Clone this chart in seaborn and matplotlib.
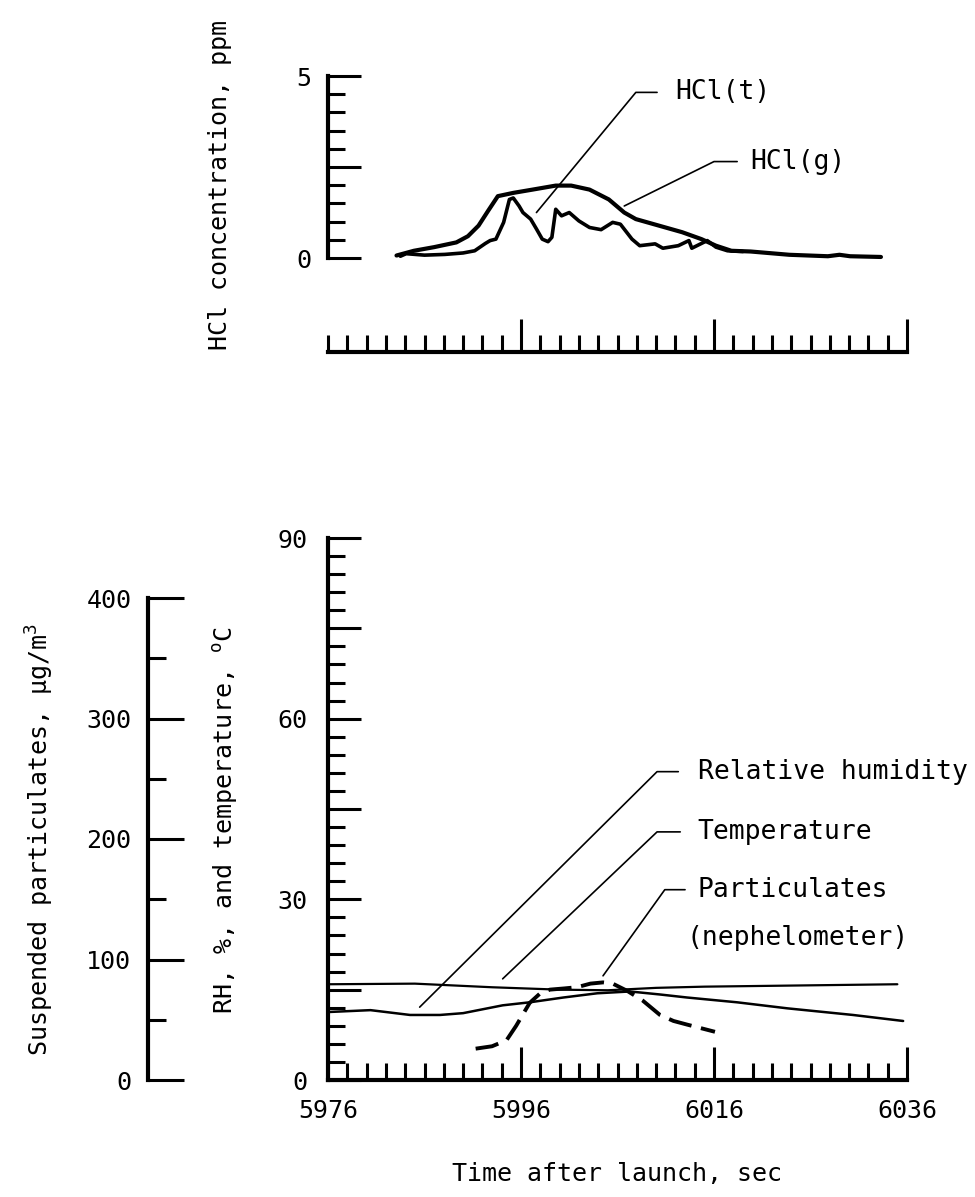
import matplotlib
matplotlib.use("Agg")
import matplotlib.pyplot as plt
import matplotlib.ticker as mticker
import numpy as np
import pandas as pd
import seaborn as sns

# top panel: HCl concentration, ppm, vs time after launch, sec
hcl_g_time = [5983.1, 5984.9, 5987.0, 5989.3, 5990.5, 5991.6, 5992.6, 5993.6, 5995.2, 5997.2,
              5999.6, 6001.2, 6003.1, 6005.1, 6006.7, 6007.9, 6010.3, 6012.7, 6014.7, 6016.2,
              6017.8, 6019.8, 6023.8, 6027.8, 6029.0, 6030.1, 6033.3]
hcl_g_ppm = [0.07, 0.20, 0.30, 0.43, 0.60, 0.89, 1.30, 1.70, 1.79, 1.88,
             1.99, 1.99, 1.88, 1.61, 1.25, 1.07, 0.89, 0.71, 0.52, 0.34,
             0.20, 0.18, 0.09, 0.05, 0.09, 0.05, 0.03]
hcl_t_time = [5983.5, 5984.1, 5986.0, 5988.1, 5990.0, 5991.2, 5992.3, 5992.8, 5993.4, 5994.2,
              5994.8, 5995.2, 5995.8, 5996.2, 5997.0, 5997.6, 5998.2, 5998.8, 5999.2, 5999.6,
              6000.2, 6001.0, 6002.0, 6003.1, 6004.3, 6005.5, 6006.3, 6007.5, 6008.3, 6009.9,
              6010.7, 6012.3, 6013.4, 6013.7, 6015.3, 6016.2, 6017.4, 6019.0]
hcl_t_ppm = [0.05, 0.12, 0.08, 0.10, 0.14, 0.20, 0.40, 0.48, 0.52, 0.98,
             1.61, 1.65, 1.43, 1.25, 1.07, 0.80, 0.52, 0.45, 0.57, 1.34,
             1.16, 1.25, 1.02, 0.84, 0.78, 0.98, 0.93, 0.52, 0.34, 0.39,
             0.27, 0.34, 0.48, 0.27, 0.48, 0.30, 0.20, 0.18]

# bottom panel: relative humidity (%), temperature (C), particulates (ug/m3)
rh_time = [5976.2, 5980.4, 5984.5, 5987.6, 5990.0, 5994.1, 5996.9, 6000.4, 6003.9, 6007.3,
           6010.4, 6013.2, 6018.4, 6023.6, 6030.4, 6035.6]
rh_pct = [11.3, 11.6, 10.8, 10.8, 11.1, 12.4, 12.9, 13.7, 14.4, 14.7,
          14.2, 13.7, 12.9, 11.9, 10.8, 9.8]
temp_time = [5976.2, 5985.0, 5993.0, 6000.0, 6005.0, 6010.0, 6015.0, 6025.0, 6035.0]
temp_c = [15.9, 16.0, 15.4, 15.0, 14.9, 15.3, 15.5, 15.7, 15.9]
part_time = [5991.3, 5993.0, 5994.5, 5995.5, 5996.9, 5998.0, 5999.0, 6000.5, 6001.8, 6003.2,
             6004.5, 6005.5, 6007.0, 6008.6, 6010.4, 6011.8, 6013.2, 6016.1]
part_ugm3 = [26, 28, 33, 45, 64, 72, 75, 76, 77, 80,
             81, 80, 74, 66, 54, 49, 46, 40]

time_labels = [5976, 5996, 6016, 6036]

hcl_g = pd.DataFrame({"t": hcl_g_time, "v": hcl_g_ppm})
hcl_t = pd.DataFrame({"t": hcl_t_time, "v": hcl_t_ppm})
rh = pd.DataFrame({"t": rh_time, "v": rh_pct})
temp = pd.DataFrame({"t": temp_time, "v": temp_c})
part = pd.DataFrame({"t": part_time, "v": part_ugm3})

sns.set_theme(style="ticks")
plt.rcParams['font.family'] = ['DejaVu Sans Mono', 'DejaVu Sans']
plt.rcParams['mathtext.fontset'] = 'dejavusans'
plt.rcParams['text.color'] = 'black'
plt.rcParams['axes.labelcolor'] = 'black'
plt.rcParams['axes.edgecolor'] = 'black'
FS = 18      # tick labels and axis titles
FA = 19      # curve labels

W, H = 975, 1197
fig = plt.figure(figsize=(W / 100, H / 100), dpi=100)


def box(x0, y0, x1, y1):
    # pixel box -> figure fraction rect
    return [x0 / W, 1 - y1 / H, (x1 - x0) / W, (y1 - y0) / H]


def style_ticks(a, axis, major_len=24, minor_len=12, pad=10):
    a.tick_params(axis=axis, which='major', direction='in', length=major_len, width=2.2,
                  color='black', labelsize=FS, pad=pad, labelcolor='black')
    a.tick_params(axis=axis, which='minor', direction='in', length=minor_len, width=2.2,
                  color='black')


def time_axis(a, majors):
    a.set_xlim(5976, 6036)
    a.xaxis.set_major_locator(mticker.FixedLocator(majors))
    a.xaxis.set_minor_locator(mticker.FixedLocator(np.arange(5976, 6037, 2)))


# ---- top panel ----
axt = fig.add_axes(box(328, 76, 907, 352))
sns.lineplot(data=hcl_g, x="t", y="v", ax=axt, color='black', lw=3.0, sort=False)
sns.lineplot(data=hcl_t, x="t", y="v", ax=axt, color='black', lw=2.6, sort=False)
time_axis(axt, time_labels[1:])
axt.xaxis.set_major_formatter(mticker.NullFormatter())
axt.set_ylim(-2.58, 5)
axt.spines['top'].set_visible(False)
axt.spines['right'].set_visible(False)
axt.spines['left'].set_bounds(0, 5)
axt.spines['left'].set_linewidth(3)
axt.spines['bottom'].set_linewidth(3)
axt.yaxis.set_major_locator(mticker.FixedLocator([0, 2.5, 5]))
axt.yaxis.set_minor_locator(mticker.FixedLocator(np.arange(0, 5.01, 0.5)))
axt.yaxis.set_major_formatter(mticker.FuncFormatter(lambda v, p: f"{v:g}" if v in (0, 5) else ""))
style_ticks(axt, 'y', pad=12)
style_ticks(axt, 'x')
axt.set_xlabel("")
axt.set_ylabel("")

lead_kw = dict(color='black', lw=1.2)
axt.plot([5997.6, 6007.9, 6010.1], [1.25, 4.55, 4.55], **lead_kw)
axt.text(6012.0, 4.55, "HCl(t)", fontsize=FA, va='center', ha='left')
axt.plot([6006.7, 6016.0, 6018.4], [1.43, 2.65, 2.65], **lead_kw)
axt.text(6019.8, 2.65, "HCl(g)", fontsize=FA, va='center', ha='left')

fig.text(220 / W, 1 - 185 / H, "HCl concentration, ppm", rotation=90,
         ha='center', va='center', fontsize=FS)

# ---- bottom panel ----
ax = fig.add_axes(box(328, 538, 907, 1080))
sns.lineplot(data=rh, x="t", y="v", ax=ax, color='black', lw=1.8, sort=False)
sns.lineplot(data=temp, x="t", y="v", ax=ax, color='black', lw=1.6, sort=False)
time_axis(ax, time_labels)
ax.set_ylim(0, 90)
ax.spines['top'].set_visible(False)
ax.spines['right'].set_visible(False)
ax.spines['left'].set_linewidth(3)
ax.spines['bottom'].set_linewidth(3)
ax.yaxis.set_major_locator(mticker.MultipleLocator(15))
ax.yaxis.set_minor_locator(mticker.MultipleLocator(3))
ax.yaxis.set_major_formatter(mticker.FuncFormatter(lambda v, p: f"{v:g}" if v % 30 == 0 else ""))
style_ticks(ax, 'y', pad=15)
style_ticks(ax, 'x', pad=14)
ax.set_xlabel("Time after launch, sec", fontsize=FS, labelpad=28)
ax.set_ylabel("")

# particulates on a hidden twin scaled like the left axis
ax2 = ax.twinx()
sns.lineplot(data=part, x="t", y="v", ax=ax2, color='black', lw=2.8, sort=False,
             linestyle=(0, (6, 2.5)))
ax2.set_ylim(0, 400 * 542 / 482)
ax2.axis('off')

ax.plot([5985.5, 6010.1, 6012.3], [12.1, 51.2, 51.2], **lead_kw)
ax.text(6014.3, 51.2, "Relative humidity", fontsize=FA, va='center', ha='left')
ax.plot([5994.1, 6010.1, 6012.5], [16.8, 41.2, 41.2], **lead_kw)
ax.text(6014.3, 41.2, "Temperature", fontsize=FA, va='center', ha='left')
ax.plot([6004.5, 6010.9, 6013.0], [17.3, 31.6, 31.6], **lead_kw)
ax.text(6014.3, 31.6, "Particulates", fontsize=FA, va='center', ha='left')
ax.text(6013.2, 23.6, "(nephelometer)", fontsize=FA, va='center', ha='left')

fig.text(226 / W, 1 - 820 / H, "RH, %, and temperature, $^\\mathregular{o}$C", rotation=90,
         ha='center', va='center', fontsize=FS)

# left axis: suspended particulates
axp = fig.add_axes(box(148, 598, 200, 1080))
axp.set_ylim(0, 400)
axp.set_xlim(0, 1)
for s in ('top', 'right', 'bottom'):
    axp.spines[s].set_visible(False)
axp.spines['left'].set_linewidth(3)
axp.xaxis.set_visible(False)
axp.yaxis.set_major_locator(mticker.MultipleLocator(100))
axp.yaxis.set_minor_locator(mticker.MultipleLocator(50))
style_ticks(axp, 'y', major_len=26, minor_len=13, pad=12)
axp.patch.set_alpha(0)

fig.text(40 / W, 1 - 840 / H, "Suspended particulates, \u03bcg/m$^\\mathregular{3}$", rotation=90,
         ha='center', va='center', fontsize=FS)

fig.savefig("out.png", dpi=100, facecolor='white')
